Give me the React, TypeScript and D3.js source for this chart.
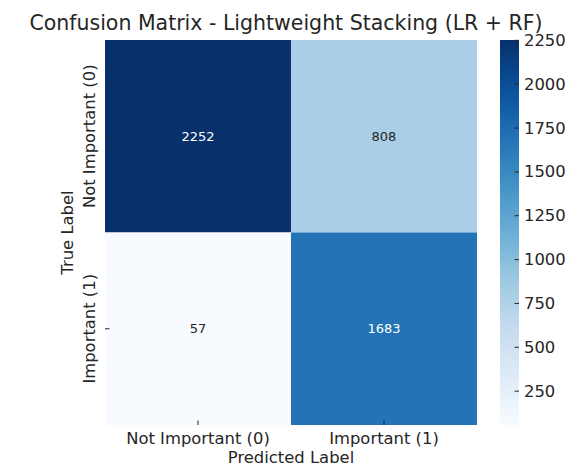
import React from "react";
import * as d3 from "d3";

const rowLabels = ["Not Important (0)", "Important (1)"];
const colLabels = ["Not Important (0)", "Important (1)"];
const matrix = [
  [2252, 808],
  [57, 1683],
];
const cbarTicks = [250, 500, 750, 1000, 1250, 1500, 1750, 2000, 2250];
const blues = ["#f7fbff", "#deebf7", "#c6dbef", "#9ecae1", "#6baed6", "#4292c6", "#2171b5", "#08519c", "#08306b"];

const W = 567, H = 466;
const left = 105, right = 477, top = 40, bottom = 425;
const cbX = 500, cbW = 19;
const textColor = "#262626";
const font = "DejaVu Sans";
const tickLen = 4.5;

export default function App() {
  const flat = matrix.flat();
  const vmin = d3.min(flat)!, vmax = d3.max(flat)!;
  const norm = d3.scaleLinear().domain([vmin, vmax]).range([0, 1]).clamp(true);
  const cmap = d3.scaleLinear<string>().domain(blues.map((_, i) => i / (blues.length - 1))).range(blues).interpolate(d3.interpolateRgb);
  const color = (v: number) => cmap(norm(v));
  const x = d3.scaleBand().domain(colLabels.map((_, i) => String(i))).range([left, right]);
  const y = d3.scaleBand().domain(rowLabels.map((_, i) => String(i))).range([top, bottom]);
  const cb = d3.scaleLinear().domain([vmin, vmax]).range([bottom, top]);
  const stops = d3.range(0, 1.0001, 0.05);

  const lum = (c: string) => {
    const r = d3.rgb(c);
    const f = (u: number) => { u /= 255; return u <= 0.03928 ? u / 12.92 : Math.pow((u + 0.055) / 1.055, 2.4); };
    return 0.2126 * f(r.r) + 0.7152 * f(r.g) + 0.0722 * f(r.b);
  };

  return (
    <svg width={W} height={H} style={{ position: "absolute", left: 0, top: 0 }} fontFamily={font}>
      <defs>
        <linearGradient id="cbg" x1="0" y1="1" x2="0" y2="0">
          {stops.map((s) => (
            <stop key={s} offset={s} stopColor={cmap(s)} />
          ))}
        </linearGradient>
      </defs>
      <rect width={W} height={H} fill="#fff" />
      <text x={286} y={30} textAnchor="middle" fontSize={20.5} fill={textColor}>
        Confusion Matrix - Lightweight Stacking (LR + RF)
      </text>
      {matrix.map((row, i) =>
        row.map((v, j) => {
          const c = color(v);
          return (
            <g key={`${i}-${j}`}>
              <rect x={x(String(j))} y={y(String(i))} width={x.bandwidth()} height={y.bandwidth()} fill={c} />
              <text
                x={x(String(j))! + x.bandwidth() / 2}
                y={y(String(i))! + y.bandwidth() / 2}
                textAnchor="middle"
                dominantBaseline="central"
                fontSize={13}
                fill={lum(c) < 0.408 ? "#ffffff" : textColor}
              >
                {v}
              </text>
            </g>
          );
        })
      )}
      {colLabels.map((l, j) => {
        const cx = x(String(j))! + x.bandwidth() / 2;
        return (
          <g key={l + j}>
            <line x1={cx} x2={cx} y1={bottom - tickLen} y2={bottom} stroke={textColor} strokeWidth={1} />
            <text x={cx} y={bottom + 19} textAnchor="middle" fontSize={16.4} fill={textColor}>{l}</text>
          </g>
        );
      })}
      {rowLabels.map((l, i) => {
        const cy = y(String(i))! + y.bandwidth() / 2;
        return (
          <g key={l + i}>
            <line x1={left} x2={left + tickLen} y1={cy} y2={cy} stroke={textColor} strokeWidth={1} />
            <text transform={`translate(${95},${cy}) rotate(-90)`} textAnchor="middle" fontSize={16.4} fill={textColor}>{l}</text>
          </g>
        );
      })}
      <text x={(left + right) / 2} y={463} textAnchor="middle" fontSize={16.4} fill={textColor}>Predicted Label</text>
      <text transform={`translate(${73},${(top + bottom) / 2}) rotate(-90)`} textAnchor="middle" fontSize={16.4} fill={textColor}>True Label</text>
      <rect x={cbX} y={top} width={cbW} height={bottom - top} fill="url(#cbg)" />
      {cbarTicks.map((t) => (
        <g key={t}>
          <line x1={cbX + cbW - tickLen} x2={cbX + cbW} y1={cb(t)} y2={cb(t)} stroke={textColor} strokeWidth={1} />
          <text x={cbX + cbW + 5} y={cb(t)} dominantBaseline="central" fontSize={16.4} fill={textColor}>{t}</text>
        </g>
      ))}
    </svg>
  );
}
